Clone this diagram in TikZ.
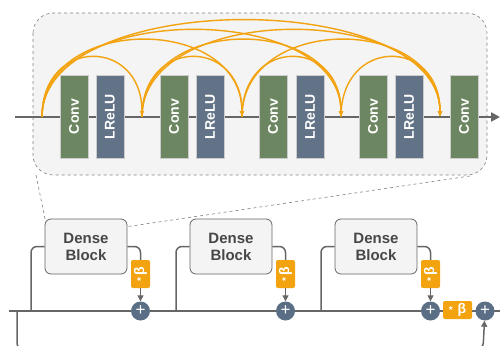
\documentclass[tikz,border=0pt]{standalone}
\usepackage{fontspec}
\usepackage{graphicx}
\setmainfont{Liberation Sans}
\usetikzlibrary{arrows.meta}
\definecolor{convgreen}{HTML}{6B8660}
\definecolor{reluslate}{HTML}{627388}
\definecolor{sumslate}{HTML}{5A6E85}
\definecolor{skiporange}{HTML}{F2A30F}
\definecolor{wiregray}{HTML}{666666}
\definecolor{boxfill}{HTML}{F4F4F4}
\begin{document}
\begin{tikzpicture}[x=1pt, y=-1pt,
    layer/.style={draw=white!80!black, line width=0.5pt, minimum width=28pt, minimum height=83pt,
        inner sep=0pt, text=white, font=\bfseries\fontsize{14}{14}\selectfont},
    conv/.style={layer, fill=convgreen},
    lrelu/.style={layer, fill=reluslate},
    skip/.style={skiporange, line width=1.4pt, -{Latex[length=6pt,width=5pt]}},
    dense/.style={draw=wiregray, line width=0.8pt, fill=boxfill, rounded corners=6pt,
        minimum width=82pt, minimum height=55pt, align=center, text=black!72,
        font=\bfseries\fontsize{15}{17}\selectfont},
    scalebox/.style={fill=skiporange, rounded corners=2pt, inner sep=0pt, text=white,
        font=\bfseries\fontsize{14}{14}\selectfont},
    sum/.style={circle, fill=sumslate, minimum size=19pt, inner sep=0pt, text=white,
        font=\fontsize{17}{17}\selectfont},
    wire/.style={wiregray, line width=1.5pt, rounded corners=6pt},
    feed/.style={wiregray, line width=1.2pt, -{Triangle[length=6pt,width=6pt]}}]
    \useasboundingbox (0,0) rectangle (500,345);
    % ── dense block in detail ──────────────────────────
    \draw[gray, dashed, line width=0.6pt, fill=boxfill, rounded corners=20pt] (33,13) rectangle (487,175);
    \draw[wiregray, line width=2.2pt, -{Triangle[length=9pt,width=9pt]}] (15,117) -- (500,117);
    \foreach \x/\n in {42/0, 142/1, 242/2, 341/3, 440/4}
        \coordinate (p\n) at (\x,117);
    \node[conv]  (cv1) at (74,116.5)  {\rotatebox{90}{Conv}};
    \node[lrelu] (lr1) at (110,116.5) {\rotatebox{90}{LReLU}};
    \node[conv]  (cv2) at (174,116.5) {\rotatebox{90}{Conv}};
    \node[lrelu] (lr2) at (210,116.5) {\rotatebox{90}{LReLU}};
    \node[conv]  (cv3) at (273,116.5) {\rotatebox{90}{Conv}};
    \node[lrelu] (lr3) at (310,116.5) {\rotatebox{90}{LReLU}};
    \node[conv]  (cv4) at (373,116.5) {\rotatebox{90}{Conv}};
    \node[lrelu] (lr4) at (409,116.5) {\rotatebox{90}{LReLU}};
    \node[conv]  (cv5) at (464,116.5) {\rotatebox{90}{Conv}};
    \foreach \a/\b/\h in {0/1/80, 1/2/80, 2/3/80, 3/4/80, 0/2/103, 1/3/103, 2/4/103, 0/3/116, 1/4/116, 0/4/129}
        \draw[skip] (p\a) .. controls +(0,-\h) and +(0,-\h) .. (p\b);
    % ── residual chain ─────────────────────────────────
    \draw[wiregray, line width=2pt] (9,311) -- (500,311);
    \foreach \i/\x in {1/86, 2/231, 3/376} {
        \node[dense] (db\i) at (\x,246.5) {Dense\\Block};
        \node[scalebox, minimum width=19pt, minimum height=28pt] (bt\i) at (\x+54.5,274) {\rotatebox{90}{{\fontsize{10}{10}\selectfont*}\,β}};
        \node[sum] (sm\i) at (\x+54.5,311) {+};
        \coordinate (in\i) at (\x-55,311);
        \draw[wire] (in\i) |- (db\i.west);
        \draw[wire] (db\i.east) -| (bt\i.north);
        \draw[feed] (bt\i) -- (sm\i);
    }
    \node[scalebox, minimum width=29pt, minimum height=18pt] (bt4) at (457.5,310) {{\fontsize{10}{10}\selectfont*}\,\,β};
    \node[sum] (sm4) at (485,311) {+};
    \coordinate (lp) at (17,311);
    \draw[wire, -{Triangle[length=6pt,width=6pt]}] (lp) -- (17,349) -- (483,349) -- (sm4);
    % ── zoom guides ────────────────────────────────────
    \draw[gray, dashed, line width=0.6pt] (36,175) -- ([shift={(1,3)}]db1.north west);
    \draw[gray, dashed, line width=0.6pt] (470,176) -- ([shift={(0,8)}]db1.north east);
\end{tikzpicture}
\end{document}
